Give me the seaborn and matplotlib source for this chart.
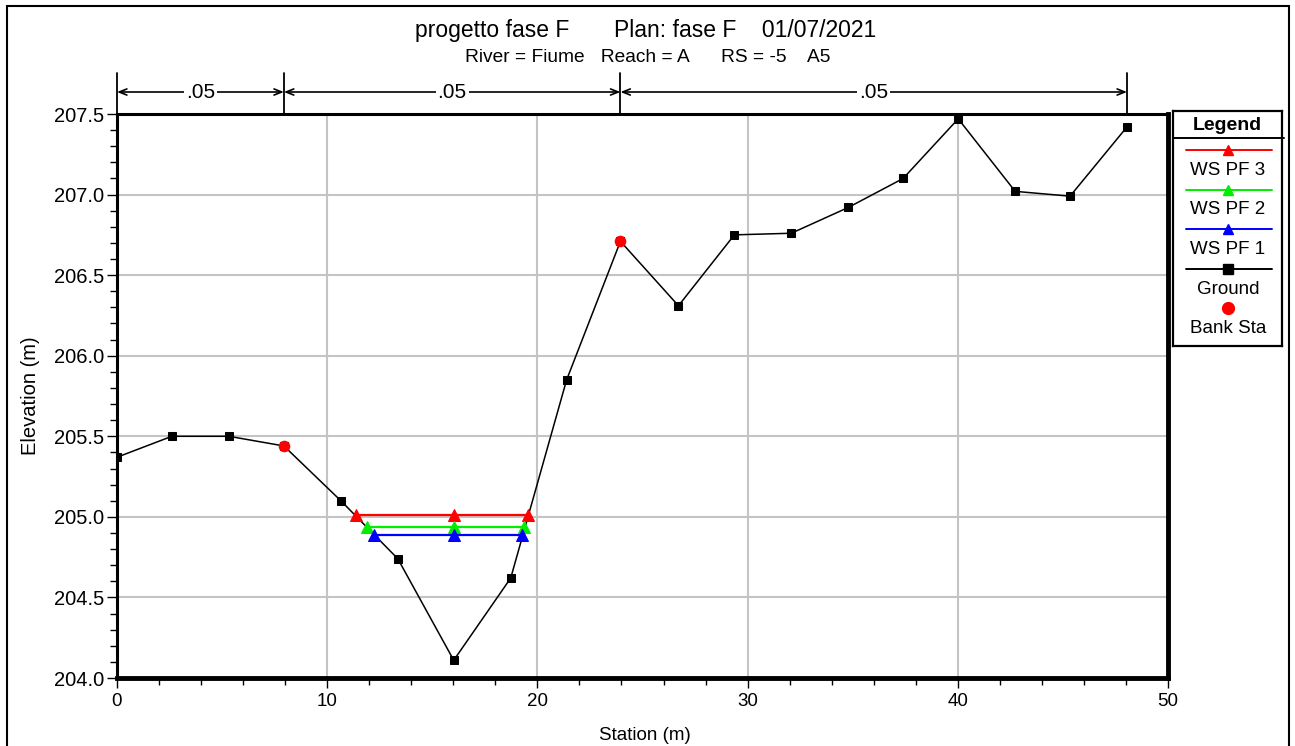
import numpy as np
import pandas as pd
import matplotlib
matplotlib.use("Agg")
import matplotlib.pyplot as plt
import matplotlib.transforms as mtransforms
from matplotlib.patches import Rectangle
from matplotlib.ticker import MultipleLocator, FormatStrFormatter
import seaborn as sns

# ---------------- data ----------------
station = [0.0, 2.61, 5.32, 7.94, 10.65, 13.36, 16.02, 18.73, 21.39, 23.95,
           26.71, 29.37, 32.08, 34.79, 37.40, 40.02, 42.73, 45.34, 48.05]
ground = [205.37, 205.50, 205.50, 205.44, 205.10, 204.74, 204.11, 204.62, 205.85, 206.71,
          206.31, 206.75, 206.76, 206.92, 207.10, 207.47, 207.02, 206.99, 207.42]
bank_station = [7.94, 23.95]
bank_elev = [205.44, 206.71]
ws_names = ["WS PF 3", "WS PF 2", "WS PF 1"]
ws_colors = ["#ff0000", "#00ee00", "#0000ff"]
ws_elev = [205.01, 204.94, 204.89]
ws_left = [11.37, 11.89, 12.22]
ws_mid = [16.02, 16.02, 16.02]
ws_right = [19.53, 19.35, 19.25]
n_breaks = [0.0, 7.94, 23.95, 48.05]
n_labels = [".05", ".05", ".05"]
title_text = "progetto fase F       Plan: fase F    01/07/2021"
subtitle_text = "River = Fiume   Reach = A      RS = -5    A5"

# ---------------- style ----------------
sns.set_style("white")
plt.rcParams["font.family"] = ["Liberation Sans", "DejaVu Sans"]
for k in ["text.color", "axes.labelcolor", "xtick.color", "ytick.color"]:
    plt.rcParams[k] = "black"

W, H = 1295, 746
fig = plt.figure(figsize=(W / 100, H / 100), dpi=100)

def px(x0, y0, x1, y1):
    return [x0 / W, 1 - y1 / H, (x1 - x0) / W, (y1 - y0) / H]

ax = fig.add_axes(px(117, 114, 1168, 678))

# ground
gdf = pd.DataFrame({"station": station, "elev": ground})
sns.lineplot(data=gdf, x="station", y="elev", ax=ax, color="black", lw=1.1,
             marker="s", markersize=6, markeredgecolor="black", estimator=None,
             sort=False, zorder=3)

# water surfaces
ws_rows = []
for name, e, l, m, r in zip(ws_names, ws_elev, ws_left, ws_mid, ws_right):
    for xv in (l, m, r):
        ws_rows.append({"profile": name, "station": xv, "elev": e})
ws_df = pd.DataFrame(ws_rows)
for name, col in zip(ws_names, ws_colors):
    sub = ws_df[ws_df["profile"] == name]
    sns.lineplot(data=sub, x="station", y="elev", ax=ax, color=col, lw=1.6,
                 marker="^", markersize=8, markeredgecolor=col, estimator=None,
                 sort=False, zorder=4)

# bank stations
bdf = pd.DataFrame({"station": bank_station, "elev": bank_elev})
sns.scatterplot(data=bdf, x="station", y="elev", ax=ax, color="red",
                marker="o", s=70, edgecolor="red", linewidth=0, zorder=6)

ax.set_xlim(0, 50)
ax.set_ylim(204.0, 207.5)
ax.xaxis.set_major_locator(MultipleLocator(10))
ax.xaxis.set_minor_locator(MultipleLocator(2))
ax.yaxis.set_major_locator(MultipleLocator(0.5))
ax.yaxis.set_minor_locator(MultipleLocator(0.1))
ax.yaxis.set_major_formatter(FormatStrFormatter("%.1f"))
ax.tick_params(axis="both", which="major", direction="out", length=7, width=1,
               color="black", bottom=True, left=True)
ax.tick_params(axis="both", which="minor", direction="out", length=5, width=1,
               color="black", bottom=True, left=True)
ax.tick_params(axis="x", pad=4, labelsize=13.5)
ax.tick_params(axis="y", pad=2, labelsize=14.5)
ax.grid(True, which="major", color="#c4c4c4", lw=1.5)
ax.set_axisbelow(True)
ax.set_xlabel("")
ax.set_ylabel("")
for s in ["left", "top"]:
    ax.spines[s].set_linewidth(2.2)
    ax.spines[s].set_color("black")
for s in ["right", "bottom"]:
    ax.spines[s].set_linewidth(3.5)
    ax.spines[s].set_color("black")

# n-value bars above the plot
trans = mtransforms.blended_transform_factory(ax.transData, ax.transAxes)
y_arrow = (678 - 92) / 564
y_top = (678 - 73) / 564
for b in n_breaks:
    ax.plot([b, b], [1.0, y_top], transform=trans, color="black", lw=1.3,
            clip_on=False, zorder=6)
for b0, b1, lab in zip(n_breaks[:-1], n_breaks[1:], n_labels):
    ax.annotate("", xy=(b0, y_arrow), xytext=(b1, y_arrow), xycoords=trans,
                textcoords=trans,
                arrowprops=dict(arrowstyle="<->,head_length=0.55,head_width=0.22",
                                color="black", lw=1.2, shrinkA=0, shrinkB=0))
    ax.text((b0 + b1) / 2, y_arrow, lab, transform=trans, ha="center",
            va="center", fontsize=15,
            bbox=dict(facecolor="white", edgecolor="none", pad=1.5))

# titles and axis labels
fig.text(0.4985, 1 - 30 / H, title_text, ha="center", va="center", fontsize=16.5)
fig.text(0.5, 1 - 58 / H, subtitle_text, ha="center", va="center", fontsize=13.8)
fig.text(30 / W, 1 - 396 / H, "Elevation (m)", ha="center", va="center",
         rotation=90, fontsize=14.5)
fig.text(645 / W, 1 - 736 / H, "Station (m)", ha="center", va="center",
         fontsize=13.5)

# figure border
fig.patches.append(Rectangle((7 / W, -0.05), (1289 - 7) / W, 1 - 6 / H + 0.05,
                             transform=fig.transFigure, fill=False,
                             edgecolor="black", lw=1.5))

# legend box
lax = fig.add_axes(px(1173, 111, 1282, 346))
lax.set_xlim(1173, 1282)
lax.set_ylim(346, 111)
lax.set_xticks([])
lax.set_yticks([])
for s in lax.spines.values():
    s.set_linewidth(1.6)
    s.set_color("black")
lax.text(1227.5, 125, "Legend", ha="center", va="center", fontsize=14,
         fontweight="bold")
lax.plot([1173, 1284], [138, 138], color="black", lw=1.4, clip_on=False)
leg_items = [
    ("WS PF 3", ws_colors[0], "^", True),
    ("WS PF 2", ws_colors[1], "^", True),
    ("WS PF 1", ws_colors[2], "^", True),
    ("Ground", "black", "s", True),
    ("Bank Sta", "red", "o", False),
]
y0 = 150
for i, (lab, col, mk, has_line) in enumerate(leg_items):
    yl = y0 + i * 39.5
    if has_line:
        lax.plot([1186, 1272], [yl, yl], color=col, lw=1.4)
    lax.plot([1228], [yl], marker=mk, color=col, markeredgecolor=col,
             markersize=7 if mk != "o" else 8.5)
    lax.text(1228, yl + 20.5, lab, ha="center", va="center", fontsize=13.5)

fig.savefig("out.png", dpi=100)
